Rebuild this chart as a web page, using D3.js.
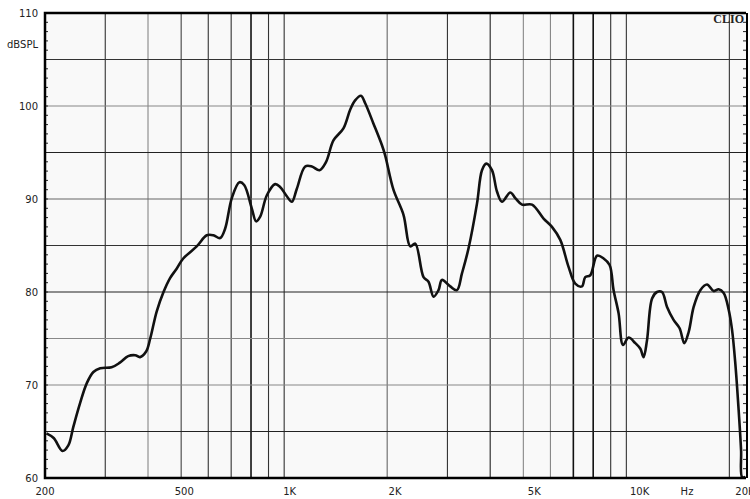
<!DOCTYPE html>
<head>
    <meta charset="UTF-8" />
    <style>
        body {
            margin: 0;
            padding: 0;
            background: #fff;
            font-family: "DejaVu Sans", Verdana, sans-serif;
        }

        .curve {
            fill: none;
            stroke: #111;
            stroke-width: 2.6px;
            stroke-linejoin: round;
        }

        .lbl {
            font-size: 10px;
            fill: #222;
        }
    </style>
    <title>CLIO</title>
</head>

<svg width="750" height="499"></svg>
<script src="https://d3js.org/d3.v7.min.js"></script>

<script>
    // measured response (Hz, dB SPL)
    const freq = [202, 212, 225, 234, 242, 253, 265, 277, 290, 313, 331, 350, 367, 379, 395, 406, 424, 444, 464, 485,
        507, 555, 594, 621, 650, 672, 703, 740, 764, 804, 828, 851, 890, 941, 973, 1018, 1053, 1089, 1152, 1205,
        1268, 1326, 1393, 1490, 1559, 1612, 1676, 1725, 1824, 1930, 1973, 2086, 2232, 2336, 2416, 2554, 2641, 2732,
        2825, 2891, 3057, 3198, 3308, 3458, 3660, 3785, 3896, 4048, 4187, 4330, 4578, 4736, 4955, 5300, 5729, 6062,
        6411, 6778, 7091, 7418, 7584, 7845, 8208, 8582, 8934, 9177, 9492, 9778, 10150, 10620, 10990, 11230, 11490,
        11890, 12290, 12710, 13150, 13740, 14310, 14770, 15210, 15730, 16450, 17210, 17990, 18610, 19250, 19910,
        20370, 20820, 21290, 21640, 21790, 22280]
    const spl = [64.8, 64.3, 62.9, 63.5, 65.5, 68.0, 70.2, 71.4, 71.8, 71.9, 72.4, 73.1, 73.2, 73.0, 73.6, 75.0, 77.9,
        80.0, 81.5, 82.5, 83.6, 84.9, 86.1, 86.1, 85.8, 86.8, 90.1, 91.8, 91.5, 89.0, 87.6, 88.1, 90.4, 91.6, 91.3,
        90.3, 89.7, 91.1, 93.5, 93.5, 93.1, 94.0, 96.3, 97.6, 99.6, 100.6, 101.1, 100.3, 98.1, 95.8, 94.7, 91.0, 88.3,
        84.9, 85.2, 81.6, 81.1, 79.5, 80.2, 81.3, 80.6, 80.2, 82.0, 84.7, 89.5, 93.1, 93.8, 93.1, 90.8, 89.7, 90.7,
        90.1, 89.4, 89.4, 87.9, 87.0, 85.6, 82.7, 80.9, 80.6, 81.6, 81.8, 83.9, 83.6, 82.9, 80.2, 77.7, 74.3, 75.1,
        74.5, 73.9, 73.0, 74.8, 79.3, 80.0, 80.0, 78.4, 77.0, 76.1, 74.5, 75.7, 78.4, 80.2, 80.8, 80.1, 80.3, 79.9,
        78.1, 75.9, 72.3, 67.3, 63.0, 60.1, 60.1]

    const gridFreqs = [300, 400, 500, 600, 700, 800, 900, 1000, 2000, 3000, 4000, 5000, 6000, 7000, 8000, 9000, 10000, 20000]
    const gridDb = [65, 70, 75, 80, 85, 90, 95, 100, 105]
    const xTickVals = [200, 500, 1000, 2000, 5000, 10000, 20000]
    const xTickText = ["200", "500", "1K", "2K", "5K", "10K", "20K"]
    const yTickVals = [60, 70, 80, 90, 100, 110]

    // grid line tone, like the scanned plot
    const vTone = ["#333", "#888", "#444", "#333", "#333", "#111", "#333", "#333", "#666", "#333", "#222",
        "#888", "#888", "#111", "#111", "#333", "#333", "#333"]
    const hTone = ["#222", "#888", "#888", "#222", "#333", "#666", "#222", "#888", "#333"]

    const svg = d3.select("svg")
    const L = 45, R = 746, T = 13, B = 478

    const x = d3.scaleLog().domain([200, 22370]).range([L, R])
    // CLIO places the frequency labels on a 200..20K span of the full width
    const xLabel = d3.scaleLog().domain([200, 20000]).range([L, 745])
    const y = d3.scaleLinear().domain([60, 110]).range([B, T])

    svg.append("rect")
        .attr("x", L).attr("y", T)
        .attr("width", R - L).attr("height", B - T)
        .attr("fill", "#f9f9f9")

    svg.append("g").selectAll("line")
        .data(gridFreqs)
        .join("line")
        .attr("x1", d => x(d)).attr("x2", d => x(d))
        .attr("y1", T).attr("y2", B)
        .attr("stroke", (d, i) => vTone[i])
        .attr("stroke-width", (d, i) => vTone[i] === "#111" ? 1.6 : 1.1)

    svg.append("g").selectAll("line")
        .data(gridDb)
        .join("line")
        .attr("x1", L).attr("x2", R)
        .attr("y1", d => y(d)).attr("y2", d => y(d))
        .attr("stroke", (d, i) => hTone[i])
        .attr("stroke-width", 1.2)

    // 1 dB ticks inside left and right frame
    const minor = d3.range(61, 110)
    svg.append("g").selectAll("line")
        .data(minor)
        .join("line")
        .attr("x1", L).attr("x2", L + 3)
        .attr("y1", d => y(d)).attr("y2", d => y(d))
        .attr("stroke", "#222")
    svg.append("g").selectAll("line")
        .data(minor)
        .join("line")
        .attr("x1", R - 3).attr("x2", R)
        .attr("y1", d => y(d)).attr("y2", d => y(d))
        .attr("stroke", "#222")

    const line = d3.line()
        .x(d => x(d[0]))
        .y(d => y(d[1]))
        .curve(d3.curveCatmullRom.alpha(0.5))

    svg.append("path")
        .datum(d3.zip(freq, spl))
        .attr("class", "curve")
        .attr("d", line)

    // frame
    svg.append("path")
        .attr("d", `M${R},${T} H${L} V${B} H${R}`)
        .attr("fill", "none")
        .attr("stroke", "#000")
        .attr("stroke-width", 2.5)
    svg.append("line")
        .attr("x1", R + 1).attr("x2", R + 1)
        .attr("y1", T).attr("y2", B)
        .attr("stroke", "#000").attr("stroke-width", 2)

    svg.append("g").selectAll("text")
        .data(yTickVals)
        .join("text")
        .attr("class", "lbl")
        .attr("x", 38)
        .attr("y", d => y(d))
        .attr("dy", "0.36em")
        .attr("text-anchor", "end")
        .text(d => d)

    svg.append("text")
        .attr("class", "lbl")
        .attr("x", 38).attr("y", 44)
        .attr("dy", "0.36em")
        .attr("text-anchor", "end")
        .text("dBSPL")

    svg.append("g").selectAll("text")
        .data(xTickVals)
        .join("text")
        .attr("class", "lbl")
        .attr("x", d => xLabel(d))
        .attr("y", 491)
        .attr("dy", "0.36em")
        .attr("text-anchor", "middle")
        .text((d, i) => xTickText[i])

    svg.append("text")
        .attr("class", "lbl")
        .attr("x", 687).attr("y", 491)
        .attr("dy", "0.36em")
        .attr("text-anchor", "middle")
        .text("Hz")

    svg.append("text")
        .attr("x", 744).attr("y", 23)
        .attr("text-anchor", "end")
        .attr("font-family", "'Liberation Serif', 'DejaVu Serif', serif")
        .attr("font-weight", "bold")
        .attr("font-size", 12)
        .attr("fill", "#222")
        .text("CLIO")
</script>
